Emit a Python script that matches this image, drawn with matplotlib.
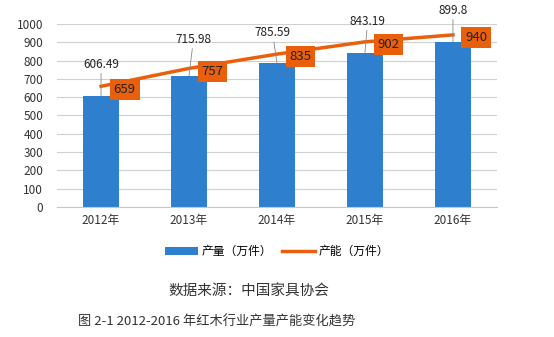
import matplotlib
matplotlib.use("Agg")
import matplotlib.pyplot as plt
import numpy as np

plt.rcParams["font.family"] = ["Noto Sans CJK SC", "DejaVu Sans"]

years = ["2012年", "2013年", "2014年", "2015年", "2016年"]
output = [606.49, 715.98, 785.59, 843.19, 899.8]
capacity = [659, 757, 835, 902, 940]
output_labels = ["606.49", "715.98", "785.59", "843.19", "899.8"]
# where the output labels sit (data units: x offset, y)
label_dx = [0.0, 0.05, -0.05, 0.03, 0.0]
label_y = [745, 880, 915, 980, 1040]

bar_color = "#2F7FCF"
line_color = "#EA5F0C"

fig = plt.figure(figsize=(5.54, 3.37), dpi=100)
ax = fig.add_axes([0.103, 0.386, 0.794, 0.543])

x = np.arange(len(years))
ax.bar(x, output, width=0.41, color=bar_color, zorder=2, label="产量（万件）")
ax.plot(x, capacity, color=line_color, linewidth=2.5, zorder=3, label="产能（万件）")

for i, v in enumerate(output):
    ax.annotate(output_labels[i], xy=(x[i], v), xytext=(x[i] + label_dx[i], label_y[i]),
                ha="center", va="bottom", fontsize=8.5, color="#222222",
                arrowprops=dict(arrowstyle="-", color="#888888", lw=0.6,
                                shrinkA=0, shrinkB=0),
                annotation_clip=False, zorder=4)

for i, v in enumerate(capacity):
    ax.annotate(str(v), xy=(x[i], v), xytext=(9, -2), textcoords="offset points",
                ha="left", va="center", fontsize=9.5, color="#222222",
                bbox=dict(boxstyle="square,pad=0.3", fc=line_color, ec="none"),
                zorder=5)

ax.set_xlim(-0.5, len(years) - 0.5)
ax.set_ylim(0, 1000)
ax.set_yticks(np.arange(0, 1001, 100))
ax.set_xticks(x)
ax.set_xticklabels(years)
ax.tick_params(axis="both", length=0, labelsize=8.5, colors="#333333")
ax.tick_params(axis="y", pad=10)
ax.tick_params(axis="x", pad=5)
ax.grid(axis="y", color="#D0D0D0", linewidth=0.8, zorder=0)
for s in ["top", "right", "left"]:
    ax.spines[s].set_visible(False)
ax.spines["bottom"].set_color("#C8C8C8")

handles, labels = ax.get_legend_handles_labels()
ax.legend(handles[::-1], labels[::-1], loc="upper center", bbox_to_anchor=(0.5, -0.15),
          ncol=2, frameon=False, fontsize=8.5, handlelength=2.8, columnspacing=0.8,
          handletextpad=0.3)

fig.text(0.45, 0.133, "数据来源：中国家具协会", ha="center", va="center", fontsize=10.5, color="#333333")
fig.text(0.14, 0.045, "图 2-1 2012-2016 年红木行业产量产能变化趋势", ha="left", va="center",
         fontsize=9.5, color="#333333")

fig.savefig("out.png", dpi=100)
